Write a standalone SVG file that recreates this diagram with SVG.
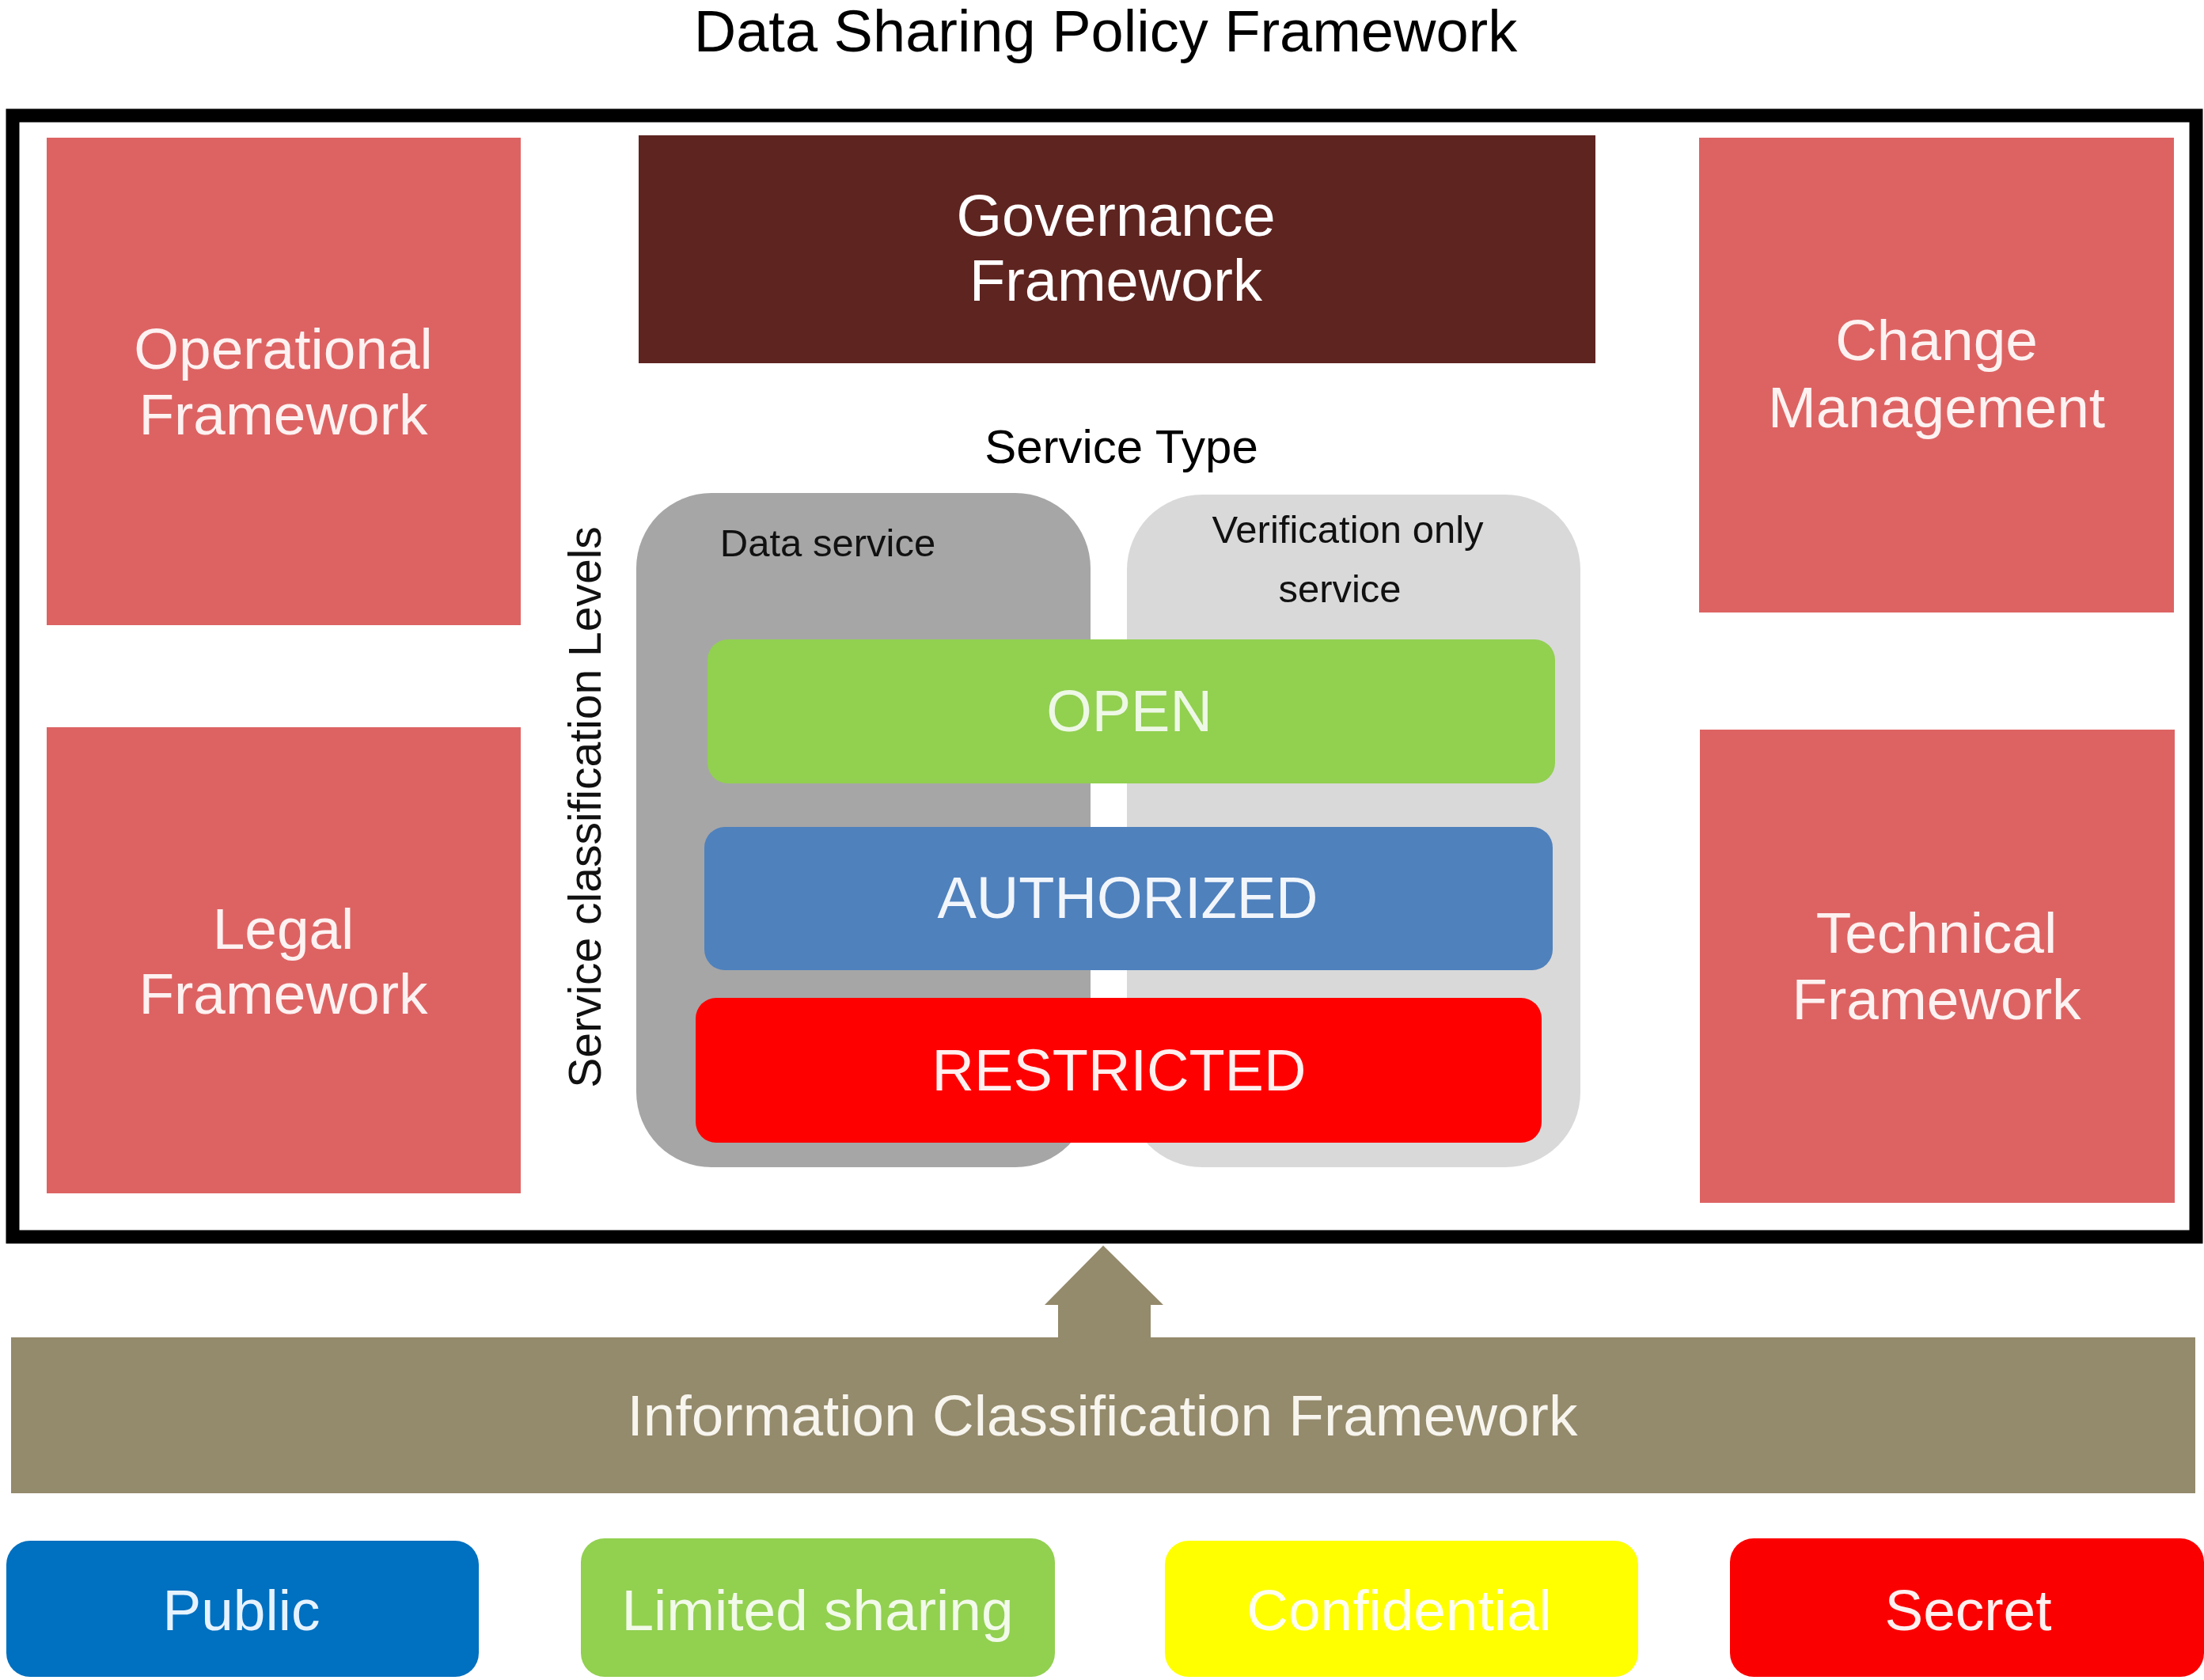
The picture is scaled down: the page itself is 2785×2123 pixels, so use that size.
<svg xmlns="http://www.w3.org/2000/svg" width="2785" height="2123" viewBox="0 0 2785 2123">
<style>
text{font-family:"Liberation Sans",Arial,sans-serif;text-anchor:middle}
.pillar{fill:#dd6363}
.pt{fill:#fdf2f2;font-size:73px}
.lvl{font-size:74px}
.leg{font-size:73px}
</style>
<rect width="2785" height="2123" fill="#ffffff"/>
<text x="1397" y="65" font-size="74" fill="#000">Data Sharing Policy Framework</text>
<g id="frame"><rect x="16" y="146" width="2759" height="1417" fill="#ffffff" stroke="#000" stroke-width="17"/></g>
<g id="operational"><rect class="pillar" x="59" y="174" width="599" height="616"/><text class="pt" x="358" y="466">Operational</text><text class="pt" x="358" y="549">Framework</text></g>
<g id="legal"><rect class="pillar" x="59" y="919" width="599" height="589"/><text class="pt" x="358" y="1199">Legal</text><text class="pt" x="358" y="1281">Framework</text></g>
<g id="change"><rect class="pillar" x="2147" y="174" width="600" height="600"/><text class="pt" x="2447" y="455">Change</text><text class="pt" x="2447" y="540">Management</text></g>
<g id="technical"><rect class="pillar" x="2148" y="922" width="600" height="598"/><text class="pt" x="2447" y="1204">Technical</text><text class="pt" x="2447" y="1288">Framework</text></g>
<g id="governance"><rect x="807" y="171" width="1209" height="288" fill="#5e2420"/><text x="1410" y="298" font-size="74" fill="#fff">Governance</text><text x="1410" y="380" font-size="74" fill="#fff">Framework</text></g>
<text x="1417" y="585" font-size="60" fill="#000">Service Type</text>
<text transform="translate(759,1020) rotate(-90)" font-size="57" fill="#111">Service classification Levels</text>
<g id="data-service"><rect x="804" y="623" width="574" height="852" rx="95" ry="95" fill="#a6a6a6"/><text x="1046" y="703" font-size="49" fill="#111">Data service</text></g>
<g id="verification-service"><rect x="1424" y="625" width="573" height="850" rx="95" ry="95" fill="#d9d9d9"/><text x="1703" y="686" font-size="49" fill="#111">Verification only</text><text x="1693" y="761" font-size="49" fill="#111">service</text></g>
<g id="open"><rect x="894" y="808" width="1071" height="182" rx="26" fill="#92d050"/><text class="lvl" x="1427" y="924" fill="#eef8e6">OPEN</text></g>
<g id="authorized"><rect x="890" y="1045" width="1072" height="181" rx="26" fill="#4f81bd"/><text class="lvl" x="1425" y="1160" fill="#f2f6fb">AUTHORIZED</text></g>
<g id="restricted"><rect x="879" y="1261" width="1069" height="183" rx="26" fill="#ff0000"/><text class="lvl" x="1414" y="1378" fill="#fff0f0">RESTRICTED</text></g>
<g id="connectors"><polygon points="1337,1692 1337,1649 1320,1649 1394,1574 1470,1649 1454,1649 1454,1692" fill="#948a6c"/></g>
<g id="info-classification"><rect x="14" y="1690" width="2760" height="197" fill="#948a6c"/><text x="1393" y="1814" font-size="73" fill="#f7f5ee">Information Classification Framework</text></g>
<g id="public"><rect x="8" y="1947" width="597" height="172" rx="30" fill="#0070c0"/><text class="leg" x="305" y="2060" fill="#e6f3ff">Public</text></g>
<g id="limited"><rect x="734" y="1944" width="599" height="175" rx="30" fill="#92d050"/><text class="leg" x="1033" y="2060" fill="#f2faea">Limited sharing</text></g>
<g id="confidential"><rect x="1472" y="1947" width="598" height="172" rx="30" fill="#ffff00"/><text class="leg" x="1768" y="2060" fill="#fffff0">Confidential</text></g>
<g id="secret"><rect x="2186" y="1944" width="599" height="175" rx="30" fill="#fb0000"/><text class="leg" x="2487" y="2060" fill="#fff0f0">Secret</text></g>
</svg>
